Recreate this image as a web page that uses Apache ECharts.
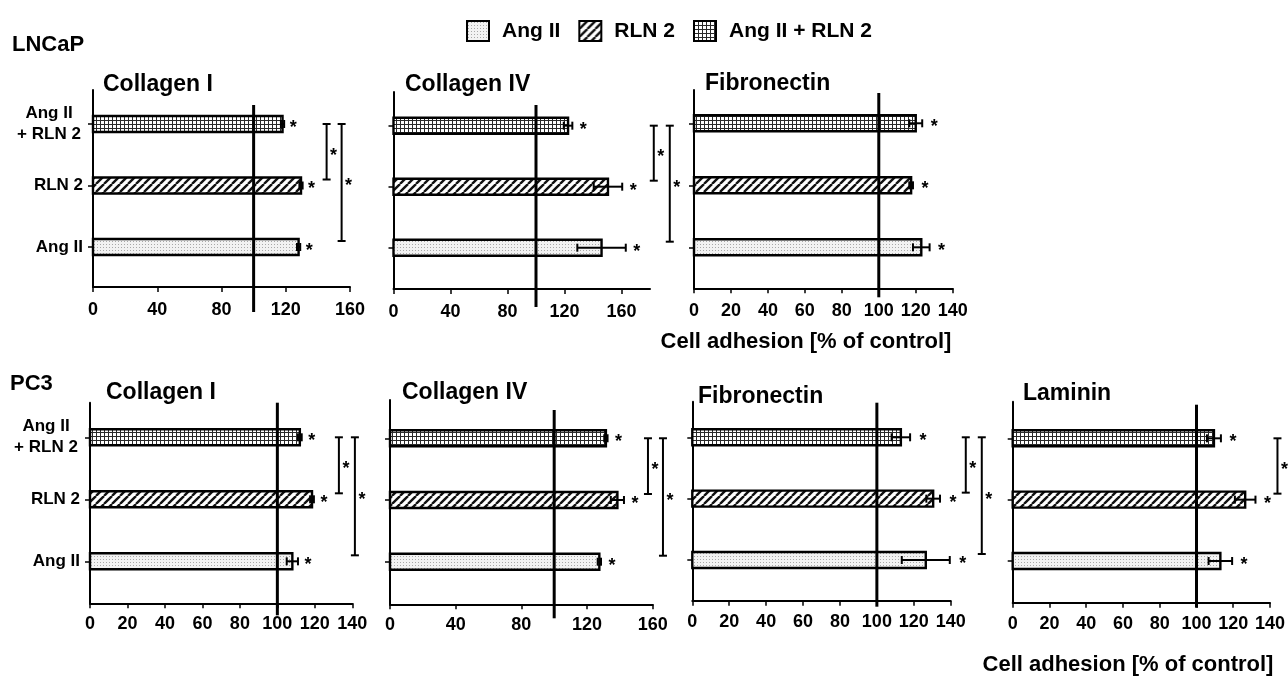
<!DOCTYPE html>
<html><head><meta charset="utf-8">
<script src="https://cdn.jsdelivr.net/npm/echarts@6/dist/echarts.min.js"></script>
<style>html,body{margin:0;padding:0;background:#fff}#c{width:1288px;height:677px}</style>
</head><body><div id="c"></div>
<script>
// ---------------- data ----------------
const categories = ['Ang II', 'RLN 2', 'Ang II + RLN 2'];
const categoryLabels = ['Ang II', 'RLN 2', 'Ang II\n+ RLN 2'];
const cellLines = ['LNCaP', 'PC3'];
const panelTitles = ['Collagen I', 'Collagen IV', 'Fibronectin', 'Collagen I', 'Collagen IV', 'Fibronectin', 'Laminin'];
const axisTitle = 'Cell adhesion [% of control]';
const controlLevel = 100;
// values in order: Ang II, RLN 2, Ang II + RLN 2
const lncapCol1Mean = [128, 129.5, 118];
const lncapCol1Err  = [1, 1, 1];
const lncapCol4Mean = [146, 150.5, 122.5];
const lncapCol4Err  = [17, 10, 3];
const lncapFnMean   = [123, 117.5, 120];
const lncapFnErr    = [4.5, 1, 3.5];
const pc3Col1Mean   = [108, 118.5, 112];
const pc3Col1Err    = [3, 1, 1];
const pc3Col4Mean   = [127.5, 138.5, 131.5];
const pc3Col4Err    = [1, 4, 1];
const pc3FnMean     = [126.5, 130.5, 113];
const pc3FnErr      = [13, 3.7, 5];
const pc3LamMean    = [113, 126.5, 109.5];
const pc3LamErr     = [6.4, 5.6, 3.8];
// significance comparisons: [from category, to category]
const lncapCol1Sig = [[2, 1], [2, 0]];
const lncapCol4Sig = [[2, 1], [2, 0]];
const lncapFnSig   = [];
const pc3Col1Sig   = [[2, 1], [2, 0]];
const pc3Col4Sig   = [[2, 1], [2, 0]];
const pc3FnSig     = [[2, 1], [2, 0]];
const pc3LamSig    = [[2, 1], [2, 0]];
const ticks160 = [0, 40, 80, 120, 160];
const ticks140 = [0, 20, 40, 60, 80, 100, 120, 140];
const xMaxes = [160, 180, 140, 140, 160, 140, 140];

const panelMeans = [lncapCol1Mean, lncapCol4Mean, lncapFnMean, pc3Col1Mean, pc3Col4Mean, pc3FnMean, pc3LamMean];
const panelErrs = [lncapCol1Err, lncapCol4Err, lncapFnErr, pc3Col1Err, pc3Col4Err, pc3FnErr, pc3LamErr];
const panelSigs = [lncapCol1Sig, lncapCol4Sig, lncapFnSig, pc3Col1Sig, pc3Col4Sig, pc3FnSig, pc3LamSig];
const panelTicks = [ticks160, ticks160, ticks140, ticks140, ticks160, ticks140, ticks140];

// ---------------- layout / style ----------------
const layout = [
  {left: 93,     top: 90,    width: 257,   height: 197,   yMin: -0.65,  yMax: 2.553, labels: true,  lblMargin: 14, refTop: 15, refBot: 25, starGap: 9,  brGap: [24, 39], title: [103, 85]},
  {left: 393.5,  top: 92,    width: 256.5, height: 197,   yMin: -0.677, yMax: 2.552, labels: false, lblMargin: 14, refTop: 13, refBot: 18, starGap: 11, brGap: [28, 44], title: [405, 85]},
  {left: 694,    top: 90,    width: 258.7, height: 198.3, yMin: -0.661, yMax: 2.537, labels: false, lblMargin: 14, refTop: 3,  refBot: 9,  starGap: 12, brGap: [24, 40], title: [705, 84]},
  {left: 90,     top: 402.7, width: 262.3, height: 200.6, yMin: -0.677, yMax: 2.558, labels: true,  lblMargin: 12, refTop: 0,  refBot: 12, starGap: 10, brGap: [25, 41], title: [106, 393]},
  {left: 390,    top: 400,   width: 262.7, height: 204.3, yMin: -0.69,  yMax: 2.62,  labels: false, lblMargin: 12, refTop: 10, refBot: 14, starGap: 11, brGap: [24, 39], title: [402, 393]},
  {left: 692.3,  top: 401.7, width: 258.4, height: 199,   yMin: -0.663, yMax: 2.58,  labels: false, lblMargin: 12, refTop: 1,  refBot: 6,  starGap: 13, brGap: [16, 32], title: [698, 397]},
  {left: 1012.7, top: 401.7, width: 258.3, height: 201,   yMin: -0.68,  yMax: 2.597, labels: false, lblMargin: 12, refTop: 3,  refBot: 5,  starGap: 12, brGap: [22, 38], title: [1023, 394]}
];
const FONT = '"Liberation Sans", Arial, Helvetica, sans-serif';

function makePattern(kind) {
  const c = document.createElement('canvas');
  let ctx;
  if (kind === 'dots') {
    c.width = 3; c.height = 3; ctx = c.getContext('2d');
    ctx.fillStyle = '#f2f2f2'; ctx.fillRect(0, 0, 3, 3);
    ctx.fillStyle = '#a8a8a8'; ctx.fillRect(1, 1, 1, 1);
  } else if (kind === 'diag') {
    c.width = 8; c.height = 8; ctx = c.getContext('2d');
    ctx.fillStyle = '#ffffff'; ctx.fillRect(0, 0, 8, 8);
    ctx.strokeStyle = '#111'; ctx.lineWidth = 2.4;
    [[-8, 8, 0, 0], [0, 8, 8, 0], [8, 8, 16, 0]].forEach(s => {
      ctx.beginPath(); ctx.moveTo(s[0], s[1]); ctx.lineTo(s[2], s[3]); ctx.stroke();
    });
  } else {
    c.width = 4; c.height = 4; ctx = c.getContext('2d');
    ctx.fillStyle = '#ffffff'; ctx.fillRect(0, 0, 4, 4);
    ctx.fillStyle = '#2a2a2a'; ctx.fillRect(0, 0, 4, 1); ctx.fillRect(0, 0, 1, 4);
  }
  return {image: c, repeat: 'repeat'};
}
const patterns = [makePattern('dots'), makePattern('diag'), makePattern('grid')];

function barRender(t, gap) {
  return function (params, api) {
    const v = api.value(0), c = api.value(1), e = api.value(2);
    const p0 = api.coord([0, c]), p1 = api.coord([v, c]);
    const lo = api.coord([v - e, c]), hi = api.coord([v + e, c]);
    const h = 16, cap = 4;
    const ls = {stroke: '#000', lineWidth: 2};
    return {type: 'group', children: [
      {type: 'rect', shape: {x: p0[0], y: p0[1] - h / 2, width: p1[0] - p0[0], height: h}, style: {fill: patterns[t], stroke: '#000', lineWidth: 2.4}},
      {type: 'line', shape: {x1: lo[0], y1: lo[1], x2: hi[0], y2: hi[1]}, style: ls},
      {type: 'line', shape: {x1: lo[0], y1: lo[1] - cap, x2: lo[0], y2: lo[1] + cap}, style: ls},
      {type: 'line', shape: {x1: hi[0], y1: hi[1] - cap, x2: hi[0], y2: hi[1] + cap}, style: ls},
      {type: 'text', x: hi[0] + gap, y: hi[1] + 4, style: {text: '*', font: 'bold 18px ' + FONT, fill: '#000', align: 'center', verticalAlign: 'middle'}}
    ]};
  };
}

function refRender(p) {
  const L = layout[p];
  const means = panelMeans[p], errs = panelErrs[p];
  const maxEnd = Math.max.apply(null, means.map((m, i) => m + errs[i]));
  return function (params, api) {
    const bot = api.coord([controlLevel, L.yMin]);
    const top = api.coord([controlLevel, L.yMax]);
    const ls = {stroke: '#000', lineWidth: 3};
    const children = [
      {type: 'line', shape: {x1: bot[0], y1: top[1] + L.refTop, x2: bot[0], y2: bot[1] + L.refBot}, style: ls}
    ];
    const xEnd = api.coord([maxEnd, 0])[0];
    panelSigs[p].forEach((s, k) => {
      const x = xEnd + L.brGap[k];
      const y1 = api.coord([0, s[0]])[1];
      const y2 = api.coord([0, s[1]])[1] - 6;
      const bs = {stroke: '#000', lineWidth: 2};
      children.push(
        {type: 'line', shape: {x1: x, y1: y1, x2: x, y2: y2}, style: bs},
        {type: 'line', shape: {x1: x - 4, y1: y1, x2: x + 4, y2: y1}, style: bs},
        {type: 'line', shape: {x1: x - 4, y1: y2, x2: x + 4, y2: y2}, style: bs},
        {type: 'text', x: x + 7, y: (y1 + y2) / 2 + 4, style: {text: '*', font: 'bold 18px ' + FONT, fill: '#000', align: 'center', verticalAlign: 'middle'}}
      );
    });
    return {type: 'group', children: children};
  };
}

const grids = [], xAxes = [], yAxes = [], series = [], graphics = [];
layout.forEach((L, p) => {
  grids.push({left: L.left, top: L.top, width: L.width, height: L.height});
  xAxes.push({
    type: 'value', gridIndex: p, min: 0, max: xMaxes[p],
    axisLine: {show: true, onZero: false, lineStyle: {color: '#000', width: 2}},
    axisTick: {show: true, length: 5, lineStyle: {color: '#000', width: 1.5}, customValues: panelTicks[p]},
    axisLabel: {show: true, customValues: panelTicks[p], margin: L.lblMargin, color: '#000', fontSize: 18, fontWeight: 'bold', fontFamily: FONT},
    splitLine: {show: false}
  });
  yAxes.push({
    type: 'value', gridIndex: p, min: L.yMin, max: L.yMax,
    axisLine: {show: true, onZero: false, lineStyle: {color: '#000', width: 2}},
    axisTick: {show: true, length: 5, lineStyle: {color: '#000', width: 1.5}, customValues: [0, 1, 2]},
    axisLabel: {
      show: L.labels, customValues: [0, 1, 2], margin: 10, color: '#000', fontSize: 17, fontWeight: 'bold', fontFamily: FONT, lineHeight: 21,
      formatter: function (v) {
        const s = categoryLabels[Math.round(v)] || '';
        const lines = s.split('\n');
        return lines.length > 1 ? lines.map(l => '{c|' + l + '}').join('\n') : s;
      },
      rich: {c: {width: 68, align: 'center', fontSize: 17, fontWeight: 'bold', fontFamily: FONT, color: '#000', lineHeight: 21}}
    },
    splitLine: {show: false}
  });
  categories.forEach((name, t) => {
    series.push({
      type: 'custom', name: name, xAxisIndex: p, yAxisIndex: p, z: 2,
      itemStyle: {color: patterns[t], borderColor: '#000', borderWidth: 2},
      data: [[panelMeans[p][t], t, panelErrs[p][t]]],
      encode: {x: 0, y: 1},
      renderItem: barRender(t, L.starGap)
    });
  });
  series.push({
    type: 'custom', name: 'control', xAxisIndex: p, yAxisIndex: p, z: 3, silent: true,
    data: [[controlLevel, 0]], encode: {x: 0, y: 1},
    renderItem: refRender(p)
  });
  graphics.push({type: 'text', x: L.title[0], y: L.title[1], style: {text: panelTitles[p], font: 'bold 23px ' + FONT, fill: '#000', align: 'left', verticalAlign: 'middle'}});
});
graphics.push(
  {type: 'text', x: 12, y: 45, style: {text: cellLines[0], font: 'bold 22px ' + FONT, fill: '#000', align: 'left', verticalAlign: 'middle'}},
  {type: 'text', x: 10, y: 384, style: {text: cellLines[1], font: 'bold 22px ' + FONT, fill: '#000', align: 'left', verticalAlign: 'middle'}},
  {type: 'text', x: 806, y: 342, style: {text: axisTitle, font: 'bold 22px ' + FONT, fill: '#000', align: 'center', verticalAlign: 'middle'}},
  {type: 'text', x: 1128, y: 665, style: {text: axisTitle, font: 'bold 22px ' + FONT, fill: '#000', align: 'center', verticalAlign: 'middle'}}
);

const chart = echarts.init(document.getElementById('c'), null, {renderer: 'canvas'});
chart.setOption({
  animation: false,
  backgroundColor: '#fff',
  legend: {
    data: categories.map((n, t) => ({name: n, icon: 'rect', itemStyle: {color: patterns[t], borderColor: '#000', borderWidth: 2}})),
    left: 461, top: 15, itemWidth: 22, itemHeight: 20, itemGap: 18, selectedMode: false,
    textStyle: {fontSize: 21, fontWeight: 'bold', color: '#000', fontFamily: FONT, padding: [0, 0, 0, 8]}
  },
  grid: grids, xAxis: xAxes, yAxis: yAxes, series: series, graphic: graphics
});
</script></body></html>
